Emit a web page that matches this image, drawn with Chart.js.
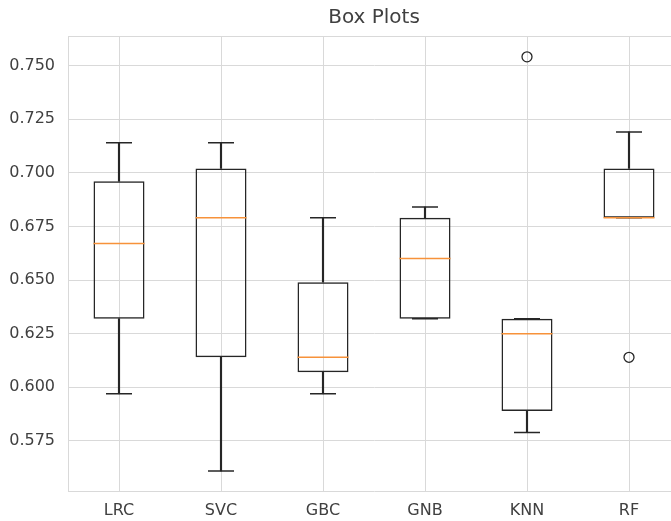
<!DOCTYPE html>
<html>
<head>
    <title>Box Plots</title>
    <script src="https://cdn.jsdelivr.net/npm/chart.js"></script>
    <style>
        html, body { margin: 0; padding: 0; overflow: hidden; background: #fff; }
        /* the original figure is cut off on the right, so the chart box is a bit wider than the window */
        #wrap { position: absolute; left: 0; top: 0; width: 690px; height: 521px; }
    </style>
</head>
<body>
<div id="wrap">
    <canvas id="boxChart"></canvas>
</div>
<script>
    // model names
    const models = ['LRC', 'SVC', 'GBC', 'GNB', 'KNN', 'RF'];

    // five number summary
    const whiskerLow  = [0.597, 0.561, 0.597, 0.632, 0.579, 0.679];
    const quartile1   = [0.632, 0.614, 0.607, 0.632, 0.589, 0.679];
    const medians     = [0.667, 0.679, 0.614, 0.660, 0.625, 0.679];
    const quartile3   = [0.696, 0.702, 0.649, 0.679, 0.632, 0.702];
    const whiskerHigh = [0.714, 0.714, 0.679, 0.684, 0.632, 0.719];

    // fliers (null = none)
    const outliers = [null, null, null, null, 0.754, 0.614];

    // y tick values
    const yTicks = [0.575, 0.600, 0.625, 0.650, 0.675, 0.700, 0.725, 0.750];

    const gridColor = '#d9d9d9';
    const textColor = '#404040';
    const lineColor = '#262626';
    const medianColor = '#f7923a';
    const lineWidth = 1.5;
    const fontFamily = '"DejaVu Sans", sans-serif';

    // top frame line (matplotlib draws all four spines)
    const framePlugin = {
        id: 'frame',
        beforeDatasetsDraw(chart) {
            const a = chart.chartArea;
            const ctx = chart.ctx;
            ctx.save();
            ctx.strokeStyle = gridColor;
            ctx.lineWidth = 1;
            ctx.beginPath();
            ctx.moveTo(a.left, a.top + 0.5);
            ctx.lineTo(a.right, a.top + 0.5);
            ctx.stroke();
            ctx.restore();
        }
    };

    const datasets = [];

    // medians on top
    datasets.push({
        type: 'line',
        data: medians,
        showLine: false,
        pointStyle: 'line',
        pointRadius: 25.5,
        pointHoverRadius: 25.5,
        pointBorderWidth: lineWidth,
        pointBorderColor: medianColor,
        order: 0
    });

    // caps
    [whiskerLow, whiskerHigh].forEach(vals => {
        datasets.push({
            type: 'line',
            data: vals,
            showLine: false,
            pointStyle: 'line',
            pointRadius: 13,
            pointHoverRadius: 13,
            pointBorderWidth: lineWidth,
            pointBorderColor: lineColor,
            order: 1
        });
    });

    // outliers
    datasets.push({
        type: 'line',
        data: outliers,
        showLine: false,
        pointStyle: 'circle',
        pointRadius: 5,
        pointHoverRadius: 5,
        pointBorderWidth: 1.3,
        pointBorderColor: lineColor,
        pointBackgroundColor: 'rgba(0,0,0,0)',
        order: 1
    });

    // boxes
    datasets.push({
        type: 'bar',
        data: models.map((m, i) => [quartile1[i], quartile3[i]]),
        backgroundColor: 'rgba(0,0,0,0)',
        borderColor: lineColor,
        borderWidth: lineWidth,
        borderSkipped: false,
        barPercentage: 0.5,
        categoryPercentage: 1,
        grouped: false,
        order: 2
    });

    // whiskers
    datasets.push({
        type: 'bar',
        data: models.map((m, i) => [whiskerLow[i], quartile1[i]]),
        backgroundColor: lineColor,
        barThickness: lineWidth,
        grouped: false,
        order: 3
    });
    datasets.push({
        type: 'bar',
        data: models.map((m, i) => [quartile3[i], whiskerHigh[i]]),
        backgroundColor: lineColor,
        barThickness: lineWidth,
        grouped: false,
        order: 3
    });

    new Chart(document.getElementById('boxChart'), {
        type: 'bar',
        data: {
            labels: models,
            datasets: datasets
        },
        plugins: [framePlugin],
        options: {
            responsive: true,
            maintainAspectRatio: false,
            animation: false,
            layout: {
                autoPadding: false,   // the wide median markers would otherwise add room on the right
                padding: { left: 0, right: 10, top: 0, bottom: 0 }
            },
            scales: {
                x: {
                    offset: true,
                    grid: {
                        offset: false,
                        color: gridColor,
                        drawTicks: false
                    },
                    border: { color: gridColor },
                    ticks: {
                        color: textColor,
                        padding: 10,
                        font: { family: fontFamily, size: 16 }
                    },
                    // fixed height, and no extra room for the last label
                    afterFit: s => {
                        s.height = 30;
                        s.paddingLeft = 0;
                        s.paddingRight = 0;
                    }
                },
                y: {
                    min: 0.5517,
                    max: 0.7637,
                    afterBuildTicks: s => { s.ticks = yTicks.map(v => ({ value: v })); },
                    grid: {
                        color: gridColor,
                        drawTicks: false
                    },
                    border: { color: gridColor },
                    ticks: {
                        color: textColor,
                        padding: 13,
                        font: { family: fontFamily, size: 16 },
                        callback: v => v.toFixed(3)
                    },
                    afterFit: s => { s.width = 68; }
                }
            },
            plugins: {
                legend: { display: false },
                tooltip: { enabled: false },
                title: {
                    display: true,
                    fullSize: false,   // center over the plot area, like matplotlib
                    text: 'Box Plots',
                    color: textColor,
                    font: { family: fontFamily, size: 20, weight: 'normal' },
                    padding: { top: 6, bottom: 6 }
                }
            }
        }
    });
</script>
</body>
</html>
